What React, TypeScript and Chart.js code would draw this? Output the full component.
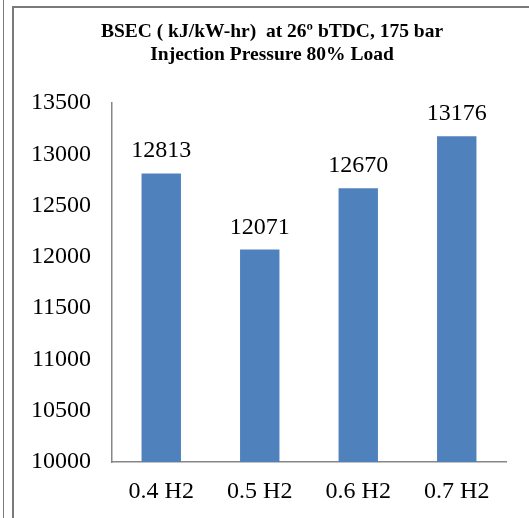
import React, { useEffect, useRef } from "react";
import { Chart, registerables } from "chart.js";

Chart.register(...registerables);

const categories = ["0.4 H2", "0.5 H2", "0.6 H2", "0.7 H2"];
const bsecValues = [12813, 12071, 12670, 13176];
const titleLines = ["BSEC ( kJ/kW-hr)  at 26\u00BA bTDC, 175 bar", "Injection Pressure 80% Load"];
const yMin = 10000;
const yMax = 13500;
const yStep = 500;

const SERIF = "'Liberation Serif', 'Times New Roman', serif";

const overlayPlugin = {
  id: "overlay",
  afterDatasetsDraw(chart: any) {
    const ctx = chart.ctx;
    ctx.save();
    ctx.font = `24px ${SERIF}`;
    ctx.fillStyle = "#000";
    ctx.textAlign = "center";
    ctx.textBaseline = "alphabetic";
    const meta = chart.getDatasetMeta(0);
    meta.data.forEach((bar: any, i: number) => {
      const v = chart.data.datasets[0].data[i];
      ctx.fillText(String(v), bar.x, bar.y - 16);
    });
    ctx.font = `bold 19.5px ${SERIF}`;
    ctx.fillText(titleLines[0], 272, 37);
    ctx.fillText(titleLines[1], 272, 60);
    ctx.restore();
  },
};

export default function App() {
  const ref = useRef<HTMLCanvasElement | null>(null);
  useEffect(() => {
    if (!ref.current) return;
    const chart = new Chart(ref.current, {
      type: "bar",
      data: {
        labels: categories,
        datasets: [
          {
            data: bsecValues,
            backgroundColor: "#4f81bd",
            borderWidth: 0,
            barPercentage: 0.4,
            categoryPercentage: 1,
          },
        ],
      },
      options: {
        responsive: false,
        animation: false,
        layout: { padding: { top: 103, right: 23, bottom: 0, left: 0 } },
        plugins: {
          legend: { display: false },
          tooltip: { enabled: false },
          title: { display: false },
        },
        scales: {
          x: {
            grid: { display: false, drawTicks: false },
            border: { display: true, color: "#868686", width: 1.5 },
            ticks: { color: "#000", font: { family: SERIF, size: 24 }, padding: 15, maxRotation: 0 },
            afterFit: (s: any) => {
              s.height = 56;
            },
          },
          y: {
            min: yMin,
            max: yMax,
            grid: { display: false, drawTicks: false },
            border: { display: true, color: "#868686", width: 1.5 },
            ticks: {
              stepSize: yStep,
              color: "#000",
              font: { family: SERIF, size: 24 },
              padding: 21,
              callback: (v: any) => String(v),
            },
            afterFit: (s: any) => {
              s.width = 112;
            },
          },
        },
      },
      plugins: [overlayPlugin],
    });
    return () => chart.destroy();
  }, []);

  const line = { position: "absolute" as const, background: "#7a7a7a" };
  return (
    <div style={{ position: "fixed", left: 0, top: 0, width: 529, height: 518, background: "#fff" }}>
      <canvas ref={ref} width={529} height={518} style={{ position: "absolute", left: 0, top: 0 }} />
      <div style={{ ...line, left: 3, top: 0, width: 1, height: 518 }} />
      <div style={{ ...line, left: 12, top: 6, width: 1.5, height: 512 }} />
      <div style={{ ...line, left: 12, top: 6, width: 517, height: 1.5 }} />
    </div>
  );
}
